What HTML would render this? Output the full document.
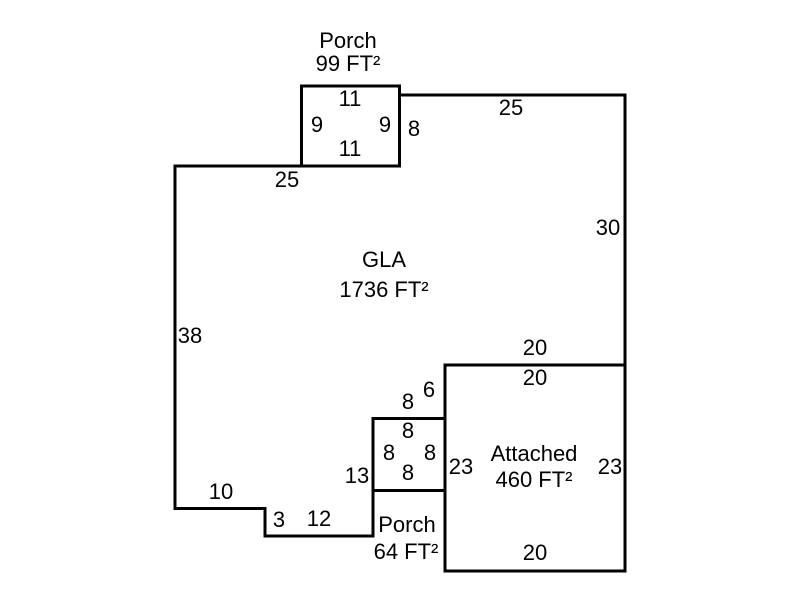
<!DOCTYPE html>
<html>
<head>
<meta charset="utf-8">
<style>
  html, body { margin: 0; padding: 0; background: #fff; }
  svg { display: block; }
  text { font-family: "Liberation Sans", Arial, sans-serif; font-size: 22px; fill: #000; text-anchor: middle; }
</style>
</head>
<body>
<svg width="800" height="600" viewBox="0 0 800 600" xmlns="http://www.w3.org/2000/svg">
  <rect width="800" height="600" fill="#fff"/>
  <g fill="none" stroke="#000" stroke-width="3" stroke-linejoin="miter" stroke-linecap="square">
    <!-- Top porch -->
    <rect x="301.5" y="86" width="98" height="80"/>
    <!-- Main GLA outline -->
    <path d="M175,166 H399.5 V95 H625 V365 H445 V490.5 H373 V536 H265 V508.5 H175 Z"/>
    <!-- Attached garage -->
    <rect x="445" y="365" width="180" height="206"/>
    <!-- Small porch -->
    <rect x="373" y="418.5" width="72" height="72"/>
  </g>

  <!-- Top porch labels -->
  <text x="348" y="48">Porch</text>
  <text x="348" y="71">99 FT²</text>
  <text x="350" y="106">11</text>
  <text x="317" y="132">9</text>
  <text x="385" y="132">9</text>
  <text x="350" y="156">11</text>
  <text x="414" y="136">8</text>
  <text x="511" y="115">25</text>
  <text x="287" y="187">25</text>
  <text x="608" y="235">30</text>

  <!-- GLA -->
  <text x="384" y="267">GLA</text>
  <text x="384" y="297">1736 FT²</text>
  <text x="190" y="343">38</text>

  <!-- Attached -->
  <text x="535" y="355">20</text>
  <text x="535" y="385">20</text>
  <text x="534" y="461">Attached</text>
  <text x="534" y="487">460 FT²</text>
  <text x="461" y="474">23</text>
  <text x="610" y="474">23</text>
  <text x="535" y="560">20</text>

  <!-- Small porch -->
  <text x="429" y="397">6</text>
  <text x="408" y="409">8</text>
  <text x="408" y="438">8</text>
  <text x="389" y="460">8</text>
  <text x="430" y="460">8</text>
  <text x="408" y="480">8</text>
  <text x="357" y="483">13</text>
  <text x="407" y="532">Porch</text>
  <text x="406" y="559">64 FT²</text>

  <!-- Bottom-left -->
  <text x="221" y="499">10</text>
  <text x="279" y="527">3</text>
  <text x="319" y="526">12</text>
</svg>
</body>
</html>
